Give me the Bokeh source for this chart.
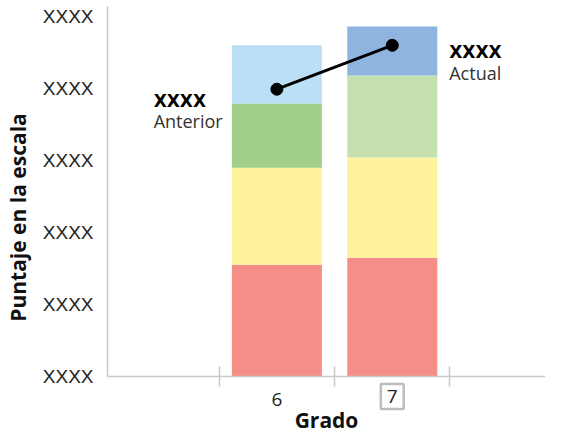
from bokeh.plotting import figure
from bokeh.models import FixedTicker, Label, Range1d
from bokeh.embed import file_html
from bokeh.resources import INLINE

# ---- data ----
grades = [6, 7]
grade_labels = ["6", "7"]
level1_top = [155, 165]
level2_top = [290, 304]
level3_top = [379, 418]
level4_top = [460, 486]
level1_colors = ["#F48E87", "#F48E87"]
level2_colors = ["#FEF39C", "#FEF39C"]
level3_colors = ["#A2CF89", "#C4E0AF"]
level4_colors = ["#BBDFF6", "#8FB4E0"]
scores = [399, 460]
score_names = ["Anterior", "Actual"]
score_values_text = ["XXXX", "XXXX"]
y_ticks = [0, 100, 200, 300, 400, 500]
y_tick_labels = ["XXXX", "XXXX", "XXXX", "XXXX", "XXXX", "XXXX"]
x_bounds = [5.5, 6.5, 7.5]

Y_TOP = 522.2
Y_BOTTOM = -80.6
Y_AXIS_TOP = 514

p = figure(width=545, height=434, output_backend="svg", toolbar_location=None,
           x_range=Range1d(4.532, 8.328), y_range=Range1d(Y_BOTTOM, Y_TOP),
           min_border_left=99, min_border_right=0, min_border_top=0,
           min_border_bottom=0)
p.outline_line_color = None
p.grid.visible = False
p.background_fill_color = "white"
p.border_fill_color = "white"

w = 0.78
bottoms = [[0, 0], level1_top, level2_top, level3_top]
tops = [level1_top, level2_top, level3_top, level4_top]
cols = [level1_colors, level2_colors, level3_colors, level4_colors]
for b, t, c in zip(bottoms, tops, cols):
    p.vbar(x=grades, width=w, bottom=b, top=t, fill_color=c, line_color=None)

p.line(grades, scores, line_width=3, line_color="black")
p.scatter(grades, scores, size=12, fill_color="black", line_color="black")

# annotations for scores
px = 117.5  # px per x unit
py = 0.72   # px per y unit
ann = [
    (grades[0] - (279.5 - 154) / px, 382, 355),
    (grades[1] + (455 - 397) / px, 450, 421),
]
for (ax, y1, y2), val, name in zip(ann, score_values_text, score_names):
    p.add_layout(Label(x=ax, y=y1, text=val, text_align="left", text_baseline="middle",
                       text_font="DejaVu Sans", text_font_style="bold",
                       text_font_size="17px", text_color="black"))
    p.add_layout(Label(x=ax, y=y2, text=name, text_align="left", text_baseline="middle",
                       text_font="Open Sans", text_font_size="18px",
                       text_color="#333333"))

# x axis drawn at y = 0 inside the frame
xa = p.xaxis[0]
xa.fixed_location = 0
xa.ticker = FixedTicker(ticks=grades, minor_ticks=x_bounds)
xa.major_label_overrides = {grades[0]: grade_labels[0], grades[1]: ""}
xa.major_tick_line_color = None
xa.major_tick_out = 0
xa.major_tick_in = 0
xa.minor_tick_line_color = "#c8c8c8"
xa.minor_tick_line_width = 1.5
xa.minor_tick_in = 10
xa.minor_tick_out = 10
xa.axis_line_color = "#c8c8c8"
xa.axis_line_width = 1.5
xa.major_label_text_font = "Open Sans"
xa.major_label_text_font_size = "19px"
xa.major_label_text_color = "#222222"
xa.major_label_standoff = 7
xa.axis_label = "Grado"
xa.axis_label_text_font = "Open Sans"
xa.axis_label_text_font_style = "bold"
xa.axis_label_text_font_size = "21px"
xa.axis_label_text_color = "#111111"
xa.axis_label_standoff = -4

# boxed "7" tick label
p.add_layout(Label(x=grades[1], y=-(396 - 376) / py,
                   text=grade_labels[1],
                   text_align="center", text_baseline="middle",
                   text_font="Open Sans", text_font_size="19px", text_color="#222222",
                   border_line_color="#bdbdbd", border_line_width=2.5,
                   padding=6))

ya = p.yaxis[0]
ya.bounds = (0, Y_AXIS_TOP)
ya.ticker = FixedTicker(ticks=y_ticks, minor_ticks=[])
ya.major_label_overrides = {t: l for t, l in zip(y_ticks, y_tick_labels)}
ya.major_tick_line_color = None
ya.major_tick_out = 0
ya.major_tick_in = 0
ya.minor_tick_line_color = None
ya.axis_line_color = "#c8c8c8"
ya.axis_line_width = 1.5
ya.major_label_text_font = "Liberation Sans"
ya.major_label_text_font_size = "19px"
ya.major_label_text_color = "#222222"
ya.major_label_standoff = 14
ya.axis_label = "Puntaje en la escala"
ya.axis_label_text_font = "Open Sans"
ya.axis_label_text_font_style = "bold"
ya.axis_label_text_font_size = "21px"
ya.axis_label_text_color = "#111111"
ya.axis_label_standoff = 8

open("out.html", "w").write(file_html(p, INLINE))
